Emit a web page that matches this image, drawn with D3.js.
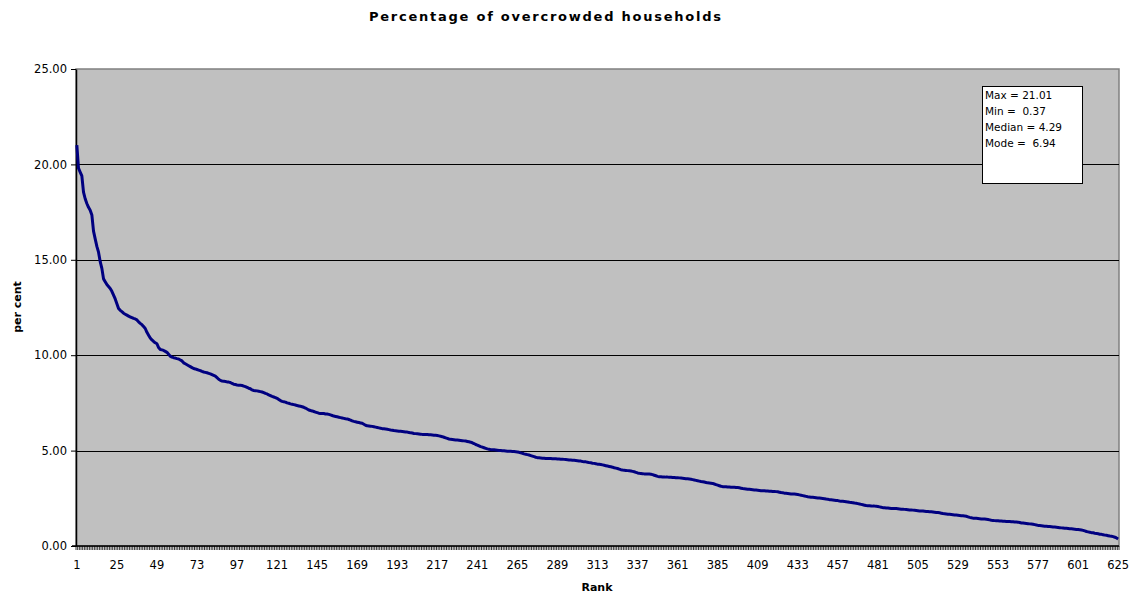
<!DOCTYPE html>
<html>
<head>
<meta charset="utf-8">
<script src="https://cdn.jsdelivr.net/npm/d3@7"></script>
<style>
  html, body { margin: 0; padding: 0; background: #ffffff; }
  svg { display: block; }
  text { font-family: "DejaVu Sans", Verdana, sans-serif; fill: #000; }
</style>
</head>
<body>
<svg id="chart" width="1130" height="594"></svg>
<script>
// Percentage of overcrowded households, sorted from highest to lowest (rank 1..625)
const values = [
  21.01, 19.80, 19.60, 19.40, 18.55, 18.20, 17.95, 17.75, 17.60, 17.35,
  16.50, 16.10, 15.70, 15.40, 14.90, 14.55, 14.00, 13.85, 13.70, 13.60,
  13.50, 13.35, 13.15, 12.95, 12.70, 12.45, 12.35, 12.28, 12.20, 12.15,
  12.10, 12.05, 12.00, 11.97, 11.93, 11.90, 11.85, 11.75, 11.67, 11.60,
  11.50, 11.40, 11.20, 11.05, 10.90, 10.80, 10.72, 10.65, 10.60, 10.40,
  10.30, 10.28, 10.25, 10.20, 10.15, 10.05, 9.95, 9.90, 9.87, 9.85,
  9.82, 9.80, 9.75, 9.70, 9.60, 9.55, 9.50, 9.45, 9.40, 9.35,
  9.30, 9.28, 9.25, 9.22, 9.19, 9.15, 9.12, 9.10, 9.08, 9.05,
  9.02, 8.98, 8.94, 8.90, 8.82, 8.74, 8.68, 8.65, 8.64, 8.62,
  8.60, 8.59, 8.57, 8.52, 8.48, 8.46, 8.44, 8.43, 8.42, 8.41,
  8.38, 8.35, 8.31, 8.27, 8.24, 8.18, 8.15, 8.14, 8.13, 8.11,
  8.09, 8.07, 8.04, 8.00, 7.97, 7.92, 7.88, 7.84, 7.81, 7.78,
  7.74, 7.68, 7.62, 7.58, 7.56, 7.54, 7.50, 7.48, 7.45, 7.43,
  7.41, 7.39, 7.36, 7.34, 7.32, 7.30, 7.27, 7.23, 7.18, 7.13,
  7.10, 7.08, 7.05, 7.02, 6.99, 6.96, 6.94, 6.94, 6.94, 6.92,
  6.92, 6.90, 6.87, 6.84, 6.81, 6.79, 6.77, 6.75, 6.73, 6.71,
  6.69, 6.67, 6.66, 6.63, 6.60, 6.56, 6.53, 6.51, 6.49, 6.47,
  6.45, 6.43, 6.38, 6.33, 6.30, 6.29, 6.28, 6.27, 6.25, 6.23,
  6.21, 6.19, 6.17, 6.15, 6.14, 6.13, 6.12, 6.10, 6.08, 6.07,
  6.05, 6.04, 6.03, 6.02, 6.01, 6.00, 5.99, 5.98, 5.97, 5.95,
  5.93, 5.92, 5.90, 5.89, 5.88, 5.87, 5.86, 5.85, 5.85, 5.84,
  5.84, 5.83, 5.83, 5.82, 5.81, 5.80, 5.79, 5.77, 5.75, 5.73,
  5.70, 5.67, 5.64, 5.61, 5.59, 5.58, 5.57, 5.56, 5.55, 5.54,
  5.53, 5.52, 5.51, 5.50, 5.48, 5.46, 5.44, 5.41, 5.37, 5.32,
  5.29, 5.25, 5.21, 5.18, 5.15, 5.12, 5.09, 5.07, 5.05, 5.04,
  5.04, 5.03, 5.02, 5.01, 5.00, 4.99, 4.99, 4.98, 4.97, 4.96,
  4.96, 4.95, 4.95, 4.94, 4.93, 4.91, 4.88, 4.86, 4.83, 4.81,
  4.79, 4.77, 4.74, 4.71, 4.68, 4.65, 4.63, 4.62, 4.61, 4.60,
  4.60, 4.59, 4.59, 4.58, 4.58, 4.57, 4.57, 4.57, 4.56, 4.56,
  4.55, 4.55, 4.54, 4.53, 4.52, 4.51, 4.51, 4.50, 4.49, 4.48,
  4.47, 4.46, 4.45, 4.43, 4.42, 4.41, 4.39, 4.37, 4.36, 4.34,
  4.33, 4.31, 4.29, 4.28, 4.27, 4.25, 4.23, 4.21, 4.19, 4.17,
  4.15, 4.13, 4.10, 4.08, 4.06, 4.03, 4.00, 3.98, 3.97, 3.96,
  3.95, 3.94, 3.93, 3.91, 3.89, 3.86, 3.83, 3.81, 3.80, 3.79,
  3.78, 3.78, 3.77, 3.77, 3.76, 3.74, 3.71, 3.68, 3.65, 3.63,
  3.63, 3.62, 3.62, 3.61, 3.61, 3.60, 3.60, 3.59, 3.59, 3.58,
  3.58, 3.57, 3.56, 3.55, 3.54, 3.53, 3.52, 3.51, 3.50, 3.48,
  3.46, 3.44, 3.42, 3.40, 3.38, 3.37, 3.35, 3.33, 3.31, 3.30,
  3.29, 3.28, 3.25, 3.22, 3.19, 3.16, 3.13, 3.11, 3.10, 3.10,
  3.09, 3.09, 3.08, 3.08, 3.08, 3.07, 3.06, 3.05, 3.03, 3.01,
  3.00, 2.99, 2.98, 2.97, 2.96, 2.95, 2.94, 2.93, 2.92, 2.91,
  2.90, 2.90, 2.89, 2.88, 2.88, 2.87, 2.87, 2.86, 2.86, 2.85,
  2.84, 2.82, 2.80, 2.79, 2.77, 2.76, 2.75, 2.74, 2.73, 2.72,
  2.72, 2.71, 2.70, 2.68, 2.66, 2.64, 2.62, 2.60, 2.58, 2.57,
  2.56, 2.55, 2.54, 2.53, 2.52, 2.51, 2.50, 2.49, 2.48, 2.46,
  2.45, 2.43, 2.42, 2.41, 2.40, 2.39, 2.38, 2.36, 2.35, 2.34,
  2.33, 2.32, 2.31, 2.29, 2.28, 2.27, 2.25, 2.24, 2.22, 2.20,
  2.18, 2.16, 2.14, 2.12, 2.11, 2.11, 2.10, 2.09, 2.09, 2.08,
  2.07, 2.05, 2.03, 2.01, 2.00, 1.99, 1.99, 1.98, 1.97, 1.97,
  1.96, 1.96, 1.95, 1.94, 1.93, 1.93, 1.92, 1.91, 1.90, 1.89,
  1.89, 1.88, 1.87, 1.86, 1.85, 1.84, 1.84, 1.83, 1.82, 1.81,
  1.81, 1.80, 1.79, 1.78, 1.77, 1.76, 1.75, 1.74, 1.72, 1.70,
  1.69, 1.68, 1.67, 1.66, 1.65, 1.64, 1.63, 1.62, 1.61, 1.60,
  1.59, 1.58, 1.57, 1.56, 1.53, 1.50, 1.48, 1.46, 1.45, 1.45,
  1.44, 1.43, 1.42, 1.41, 1.41, 1.40, 1.39, 1.37, 1.35, 1.34,
  1.33, 1.32, 1.32, 1.31, 1.31, 1.30, 1.30, 1.29, 1.28, 1.28,
  1.27, 1.27, 1.26, 1.26, 1.25, 1.23, 1.21, 1.20, 1.19, 1.18,
  1.17, 1.16, 1.15, 1.14, 1.12, 1.10, 1.08, 1.07, 1.06, 1.05,
  1.04, 1.03, 1.02, 1.02, 1.01, 1.00, 0.99, 0.98, 0.97, 0.96,
  0.95, 0.94, 0.93, 0.93, 0.92, 0.91, 0.90, 0.89, 0.88, 0.87,
  0.86, 0.85, 0.84, 0.82, 0.79, 0.76, 0.74, 0.72, 0.70, 0.69,
  0.67, 0.66, 0.64, 0.62, 0.61, 0.59, 0.57, 0.56, 0.54, 0.52,
  0.51, 0.49, 0.46, 0.42, 0.37
];

// Rank categories, one per household area
const ranks = values.map((v, i) => i + 1);

// Labelled ranks on the category axis
const rankLabels = [1, 25, 49, 73, 97, 121, 145, 169, 193, 217, 241, 265, 289, 313,
  337, 361, 385, 409, 433, 457, 481, 505, 529, 553, 577, 601, 625];

// Value axis ticks
const yTicks = [0, 5, 10, 15, 20, 25];

// Summary statistics shown in the text box
const statsLines = ["Max = 21.01", "Min =  0.37", "Median = 4.29", "Mode =  6.94"];

const titleText = "Percentage of overcrowded households";
const yTitle = "per cent";
const xTitle = "Rank";

const svg = d3.select("#chart");
const plot = { left: 76, right: 1119, top: 69, bottom: 546 };

const x = d3.scaleBand().domain(ranks).range([plot.left, plot.right]).padding(0);
const y = d3.scaleLinear().domain([0, 25]).range([plot.bottom, plot.top]);
const cx = r => x(r) + x.bandwidth() / 2;

// Plot area
svg.append("rect")
  .attr("x", plot.left).attr("y", plot.top)
  .attr("width", plot.right - plot.left).attr("height", plot.bottom - plot.top)
  .attr("fill", "#c0c0c0")
  .attr("stroke", "#808080").attr("stroke-width", 1.5);

// Horizontal gridlines
svg.append("g").selectAll("line")
  .data(yTicks.filter(t => t > 0 && t < 25))
  .join("line")
  .attr("x1", plot.left).attr("x2", plot.right)
  .attr("y1", d => Math.round(y(d)) + 0.5).attr("y2", d => Math.round(y(d)) + 0.5)
  .attr("stroke", "#000").attr("stroke-width", 1);

// Value axis
const yAxis = d3.axisLeft(y).tickValues(yTicks).tickFormat(d3.format(".2f")).tickSize(5).tickSizeOuter(0);
const gy = svg.append("g").attr("transform", `translate(${plot.left},0)`).call(yAxis);
gy.select(".domain").attr("stroke", "#000").attr("stroke-width", 1.5);
gy.selectAll(".tick line").attr("stroke", "#000");
gy.selectAll(".tick text")
  .attr("x", -9)
  .style("font-family", '"DejaVu Sans", Verdana, sans-serif')
  .style("font-size", "11.5px").attr("fill", "#000");

// Category axis: small tick mark at every category boundary
const boundaries = ranks.map(r => x(r)).concat([plot.right]);
svg.append("g").selectAll("line")
  .data(boundaries)
  .join("line")
  .attr("x1", d => d).attr("x2", d => d)
  .attr("y1", plot.bottom).attr("y2", plot.bottom + 4)
  .attr("stroke", "#000").attr("stroke-width", 0.8);

svg.append("line")
  .attr("x1", plot.left - 4).attr("x2", plot.right)
  .attr("y1", plot.bottom).attr("y2", plot.bottom)
  .attr("stroke", "#000").attr("stroke-width", 1.5);

svg.append("g").selectAll("text")
  .data(rankLabels)
  .join("text")
  .attr("x", d => cx(d))
  .attr("y", 569)
  .attr("text-anchor", "middle")
  .style("font-size", "11.5px")
  .text(d => d);

// Series line
const line = d3.line()
  .x((d, i) => cx(ranks[i]))
  .y(d => y(d));

svg.append("path")
  .datum(values)
  .attr("d", line)
  .attr("fill", "none")
  .attr("stroke", "#000080")
  .attr("stroke-width", 3)
  .attr("stroke-linejoin", "round");

// Statistics box
const box = svg.append("g").attr("transform", "translate(982,86)");
box.append("rect")
  .attr("x", 0.5).attr("y", 0.5).attr("width", 100).attr("height", 97)
  .attr("fill", "#fff").attr("stroke", "#000").attr("stroke-width", 1);
box.selectAll("text")
  .data(statsLines)
  .join("text")
  .attr("x", 3)
  .attr("y", (d, i) => 13 + i * 16)
  .attr("xml:space", "preserve")
  .style("white-space", "pre")
  .style("font-size", "10.5px")
  .text(d => d);

// Titles
svg.append("text")
  .attr("x", 545).attr("y", 21)
  .attr("text-anchor", "middle")
  .style("font-size", "13px").style("font-weight", "bold")
  .attr("textLength", 352).attr("lengthAdjust", "spacing")
  .text(titleText);

svg.append("text")
  .attr("transform", "translate(21,307) rotate(-90)")
  .attr("text-anchor", "middle")
  .style("font-size", "11px").style("font-weight", "bold")
  .text(yTitle);

svg.append("text")
  .attr("x", 597).attr("y", 591)
  .attr("text-anchor", "middle")
  .style("font-size", "11px").style("font-weight", "bold")
  .text(xTitle);
</script>
</body>
</html>
